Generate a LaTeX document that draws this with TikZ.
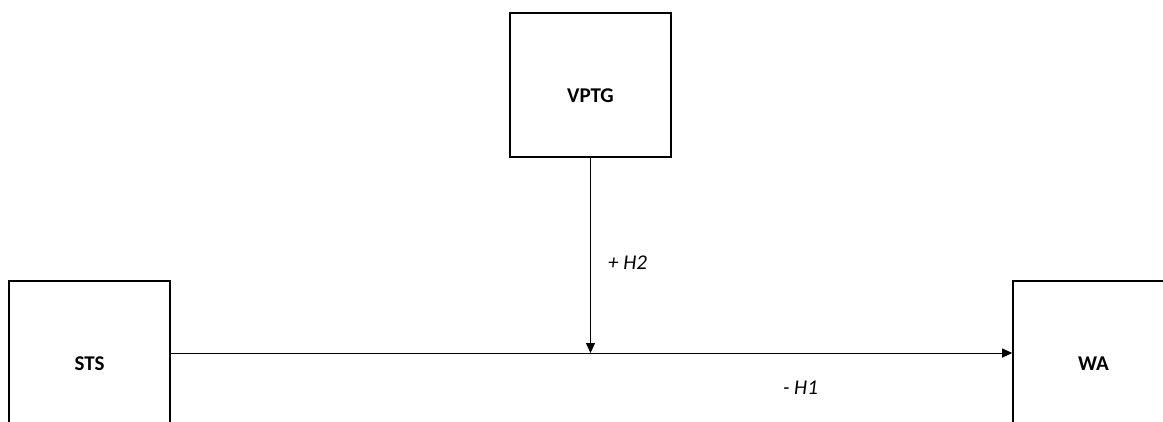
\documentclass[tikz,border=0pt]{standalone}
\usepackage{fontspec}
\setmainfont{Carlito}
\usetikzlibrary{
  arrows.meta,
  positioning
}
\tikzset{>={Triangle[length=10pt,width=9pt]}}
\tikzset{
  construct/.style={draw, line width=1.6pt, minimum width=161pt, minimum height=144pt,
    inner sep=0pt, text height=35pt, text depth=0pt,
    font=\fontsize{21}{25}\selectfont\bfseries},
  hyp/.style={inner sep=0pt, font=\fontsize{21}{25}\selectfont\itshape}
}

\begin{document}
\begin{tikzpicture}[x=1pt,y=-1pt]
  \useasboundingbox (0,0) rectangle (1163,421);
  \clip (0,0) rectangle (1163,421);
  \node[construct] (VPTG) at (590.5,85) {VPTG};
  \node[construct] (STS) at (89.5,353) {STS};
  \node[construct] (WA) at (1093.5,353) {WA};
  \coordinate (join) at (VPTG.south |- STS.east);
  \draw[->, line width=1pt] (STS.east) -- (WA.west);
  \draw[->, line width=1pt] (VPTG.south) -- (join);
  \node[hyp, anchor=west] (H2) at (608,263) {+ H2};
  \node[hyp] (H1) at (800.5,388) {- H1};
\end{tikzpicture}
\end{document}
